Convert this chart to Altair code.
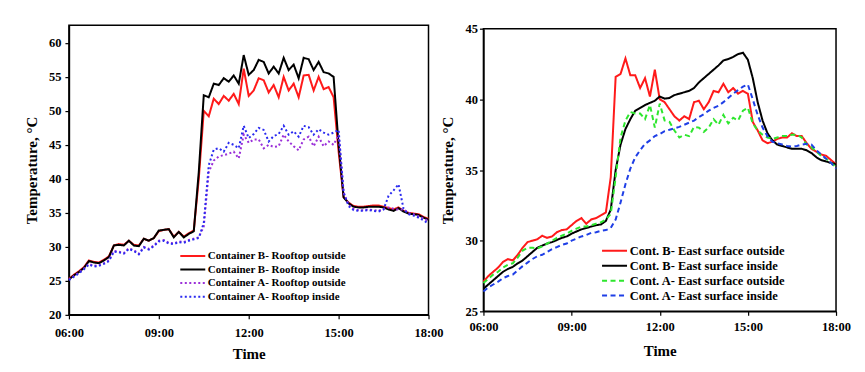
import altair as alt
import pandas as pd

# time grid: 06:00 .. 18:00 every 10 minutes (hours as decimals)
TIME = [6 + i / 6 for i in range(73)]

LEFT_NAMES = ["Container B- Rooftop outside", "Container B- Rooftop inside",
              "Container A- Rooftop outside", "Container A- Rooftop inside"]
RIGHT_NAMES = ["Cont. B- East surface outside", "Cont. B- East surface inside",
               "Cont. A- East surface outside", "Cont. A- East surface inside"]

# ---- left panel: rooftop ----
L_BO = [25.3, 25.9, 26.4, 27.0, 28.0, 27.8,
        27.7, 28.1, 28.6, 30.2, 30.4, 30.3,
        30.9, 30.3, 30.2, 31.2, 30.9, 31.3,
        32.3, 32.5, 32.6, 31.5, 32.2, 31.5,
        32.0, 32.4, 40.0, 50.0, 49.2, 51.8,
        51.0, 52.2, 51.5, 52.5, 51.0, 56.2,
        52.2, 53.0, 54.8, 54.5, 52.7, 53.8,
        52.0, 55.0, 53.0, 54.0, 52.0, 55.2,
        55.3, 53.0, 55.0, 53.2, 53.5, 52.0,
        44.0, 37.3, 36.5, 36.0, 35.9, 35.9,
        36.0, 36.1, 36.1, 35.9, 35.7, 35.5,
        35.8, 35.3, 35.0, 34.9, 34.8, 34.4,
        34.1]
L_BI = [25.2, 25.8, 26.3, 26.9, 27.9, 27.7,
        27.6, 28.0, 28.5, 30.2, 30.3, 30.2,
        30.9, 30.2, 30.1, 31.2, 30.9, 31.3,
        32.4, 32.5, 32.6, 31.4, 32.2, 31.4,
        31.9, 32.3, 41.0, 52.3, 52.0, 54.0,
        53.8, 54.8, 54.3, 55.2, 54.0, 58.2,
        55.3, 56.0, 57.5, 57.2, 55.5, 56.5,
        55.5, 57.8, 56.0, 56.8, 54.8, 57.8,
        57.6, 56.0, 57.2, 55.7, 55.5, 55.0,
        45.0, 37.3, 36.4, 35.9, 35.8, 35.8,
        35.9, 35.9, 35.9, 35.8, 35.5, 35.3,
        35.7, 35.2, 34.9, 34.8, 34.7, 34.3,
        34.0]
L_AO = [25.2, 25.7, 26.2, 26.8, 27.5, 27.2,
        27.3, 27.6, 28.0, 29.4, 29.3, 29.1,
        29.8, 29.5, 29.0, 30.0, 29.7, 30.2,
        30.9, 31.0, 30.6, 30.5, 30.8, 30.7,
        31.0, 31.2, 31.4, 33.0, 41.0, 42.7,
        43.3, 43.5, 43.7, 44.0, 43.0, 46.5,
        45.3, 45.8, 45.8, 44.5, 45.0, 44.7,
        44.8, 46.5, 45.5, 44.8, 44.2, 45.8,
        46.2, 44.8, 46.2, 44.8, 45.5, 45.0,
        46.5, 38.0, 36.2, 35.6, 35.4, 35.4,
        35.5, 35.4, 35.3, 35.6, 35.8, 35.6,
        35.5, 35.5, 35.0, 34.8, 34.5, 34.2,
        33.8]
L_AI = [25.1, 25.6, 26.1, 26.7, 27.4, 27.1,
        27.2, 27.5, 27.9, 29.3, 29.2, 29.0,
        29.7, 29.4, 28.9, 29.9, 29.6, 30.1,
        30.8, 30.9, 30.5, 30.4, 30.7, 30.6,
        30.9, 31.1, 31.3, 33.5, 42.0, 44.3,
        44.5, 44.0, 45.3, 45.0, 44.5, 47.8,
        46.0, 46.6, 47.5, 47.2, 45.5, 46.3,
        46.6, 47.8, 46.5, 47.0, 46.2, 47.8,
        47.6, 46.5, 47.3, 46.8, 46.5, 46.8,
        47.2, 38.0, 36.0, 35.4, 35.3, 35.3,
        35.4, 35.3, 35.2, 35.5, 37.5, 38.3,
        39.2, 35.6, 34.8, 34.6, 34.3, 33.9,
        33.4]

# ---- right panel: east surface ----
R_BO = [27.1, 27.5, 27.8, 28.1, 28.5, 28.7,
        28.6, 29.0, 29.5, 29.9, 30.0, 30.1,
        30.35, 30.2, 30.3, 30.6, 30.75, 30.8,
        31.1, 31.4, 31.6, 31.2, 31.5, 31.6,
        31.8, 32.0, 34.5, 41.6, 41.8, 42.9,
        41.7, 41.7, 40.8, 41.5, 40.2, 42.1,
        40.0, 39.8, 39.3, 38.8, 38.5, 38.8,
        38.6, 39.8, 39.9, 39.3, 39.8, 40.6,
        40.5, 41.1, 40.5, 40.8, 40.4, 40.6,
        40.4, 38.4, 37.8, 37.1, 36.9, 37.0,
        37.2, 37.3, 37.3, 37.6, 37.4, 37.4,
        36.9, 36.5, 36.3, 36.1, 36.0, 35.7,
        35.4]
R_BI = [26.6, 26.9, 27.2, 27.5, 27.8, 28.0,
        28.15, 28.4, 28.6, 28.9, 29.2, 29.5,
        29.65, 29.8, 29.9, 30.05, 30.2, 30.3,
        30.5, 30.65, 30.8, 30.9, 31.0, 31.1,
        31.15, 31.4, 32.2, 35.0, 36.8, 37.9,
        38.6, 39.2, 39.4, 39.6, 39.75, 39.9,
        40.2, 40.05, 40.1, 40.3, 40.4, 40.5,
        40.6, 40.8, 41.2, 41.5, 41.8, 42.1,
        42.4, 42.75, 42.85, 43.0, 43.2, 43.3,
        42.8, 41.5, 39.8, 38.5, 37.6, 37.1,
        36.8, 36.7, 36.6, 36.5, 36.5, 36.5,
        36.4, 36.2, 35.9, 35.7, 35.6, 35.5,
        35.4]
R_AO = [27.0, 27.3, 27.6, 27.8, 28.1, 28.3,
        28.4, 28.8, 29.3, 29.5, 29.5, 29.45,
        29.6, 29.8, 30.0, 30.2, 30.35, 30.5,
        30.7, 30.85, 31.0, 31.0, 31.1, 31.2,
        31.3, 31.5, 31.9, 34.5, 37.3, 38.5,
        39.1, 39.0, 39.0, 38.6, 39.6, 38.0,
        39.7, 38.5, 38.4, 37.8, 37.3, 37.5,
        37.4, 38.05, 38.0, 37.7, 38.0, 38.6,
        38.2, 38.9, 38.3, 38.7, 38.5, 39.2,
        39.4, 38.3, 37.8, 37.5, 37.3, 37.2,
        37.3, 37.4, 37.4, 37.5, 37.5, 37.3,
        36.8, 36.6, 36.3, 36.0, 35.8, 35.5,
        35.2]
R_AI = [26.4, 26.7, 26.9, 27.1, 27.35, 27.5,
        27.6, 27.9, 28.2, 28.45, 28.7, 28.9,
        29.0, 29.2, 29.4, 29.55, 29.7, 29.8,
        30.0, 30.15, 30.3, 30.4, 30.55, 30.6,
        30.7, 30.75, 30.9, 31.5, 32.7, 34.0,
        35.1, 35.9, 36.4, 36.85, 37.1, 37.4,
        37.55, 37.75, 37.85, 37.95, 38.05, 38.2,
        38.35, 38.5, 38.75, 38.95, 39.2, 39.4,
        39.55, 39.8, 40.1, 40.4, 40.65, 40.9,
        41.05, 40.0, 38.9, 38.0, 37.4, 37.0,
        36.9, 36.8, 36.7, 36.65, 36.7, 36.8,
        36.85, 36.8, 36.4, 36.1, 35.8, 35.5,
        35.1]

FONT = "Liberation Serif"


def long_df(names, series):
    rows = []
    for name, vals in zip(names, series):
        assert len(vals) == len(TIME), (name, len(vals))
        for t, v in zip(TIME, vals):
            rows.append({"t": t, "v": v, "s": name})
    return pd.DataFrame(rows)


def panel(df, names, colors, dashes, ydom, yvals, w, h, lx, ly, lfs, rowpad,
          label_pad, sw, x_label_pad, x_title_pad):
    legend = alt.Legend(title=None, orient="none", legendX=lx, legendY=ly,
                        symbolType="M-2.5,0H2.5", symbolSize=100, symbolStrokeWidth=2,
                        labelFont=FONT, labelFontSize=lfs, labelFontWeight="bold",
                        labelColor="black", rowPadding=rowpad, labelOffset=9,
                        padding=0)
    return alt.Chart(df).mark_line(strokeWidth=sw).encode(
        x=alt.X("t:Q", title="Time",
                scale=alt.Scale(domain=[6, 18], nice=False, zero=False),
                axis=alt.Axis(values=[6, 9, 12, 15, 18], labelFlush=False,
                              labelExpr="(datum.value < 10 ? '0' : '') + datum.value + ':00'",
                              labelPadding=x_label_pad, titlePadding=x_title_pad)),
        y=alt.Y("v:Q", title="Temperature, °C",
                scale=alt.Scale(domain=ydom, nice=False, zero=False),
                axis=alt.Axis(values=yvals, labelPadding=label_pad, titlePadding=9)),
        color=alt.Color("s:N", scale=alt.Scale(domain=names, range=colors), legend=legend),
        strokeDash=alt.StrokeDash("s:N", scale=alt.Scale(domain=names, range=dashes),
                                  legend=legend),
        order=alt.Order("s:N"),
    ).properties(width=w, height=h)


left = panel(long_df(LEFT_NAMES, [L_BO, L_BI, L_AO, L_AI]), LEFT_NAMES,
             ["#ff1a1a", "#000000", "#9b30d9", "#2a2af0"],
             [[1, 0], [1, 0], [2, 2.5], [2, 2.5]],
             [20, 62.6], [20, 25, 30, 35, 40, 45, 50, 55, 60], 360, 290,
             118, 225, 11, 2.6, 4, 2, 8, 7)

right = panel(long_df(RIGHT_NAMES, [R_BO, R_BI, R_AO, R_AI]), RIGHT_NAMES,
              ["#ff1a1a", "#000000", "#2ee62e", "#1f3fe6"],
              [[1, 0], [1, 0], [5, 3.5], [5, 3.5]],
              [25, 45], [25, 30, 35, 40, 45], 353, 283,
              125, 216, 12.5, 2.0, 2, 2, 5, 11)

chart = alt.hconcat(left, right, spacing=55, center=True, bounds="flush").resolve_scale(
    color="independent", strokeDash="independent"
).resolve_legend(color="independent", strokeDash="independent").configure_view(
    stroke="black", strokeWidth=1.5
).configure_axis(
    domainColor="black", domainWidth=1.5, tickColor="black", tickWidth=1.2,
    tickSize=4, labelFont=FONT, labelFontSize=12.5, labelFontWeight="bold",
    labelColor="black", titleFont=FONT, titleFontSize=15, titleFontWeight="bold",
    titleColor="black", grid=False
).properties(padding={"left": 15, "top": 13, "right": 5, "bottom": 5})

chart.save("out.html", embed_options={"renderer": "svg", "actions": False})
